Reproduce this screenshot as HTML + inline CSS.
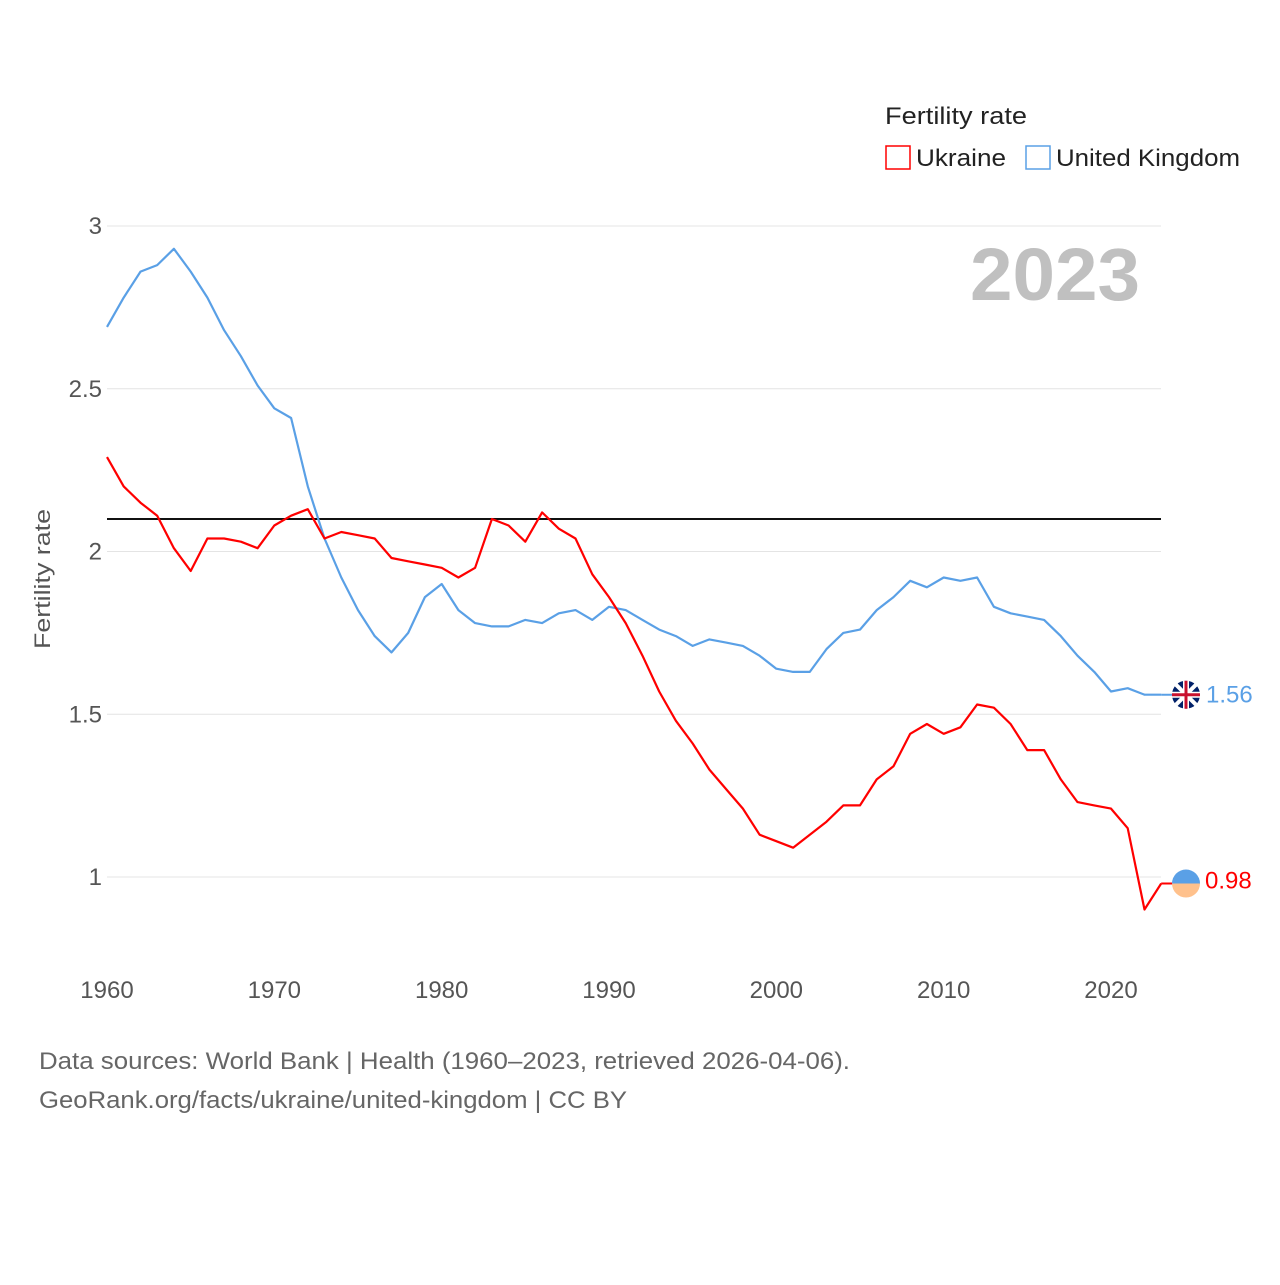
<!DOCTYPE html>
<html><head><meta charset="utf-8">
<style>
body{margin:0;background:#fff;width:1280px;height:1280px;overflow:hidden;font-family:"Liberation Sans",sans-serif}
svg text{font-family:"Liberation Sans",sans-serif}
</style></head>
<body>
<svg id="chart" width="1280" height="1280" xmlns="http://www.w3.org/2000/svg">
<g id="grid"></g>
<g id="yticks"></g>
<g id="xticks"></g>
<text x="1140" y="300" text-anchor="end" font-size="74" font-weight="bold" fill="#c0c0c0" textLength="170" lengthAdjust="spacingAndGlyphs">2023</text>
<text transform="translate(50,579) rotate(-90)" text-anchor="middle" font-size="22" fill="#555" textLength="140" lengthAdjust="spacingAndGlyphs">Fertility rate</text>
<g id="series"></g>
<g>
<text x="885" y="124" font-size="24" fill="#222" textLength="142" lengthAdjust="spacingAndGlyphs">Fertility rate</text>
<rect x="886" y="146" width="24" height="23" fill="none" stroke="#f00" stroke-width="1.5"/>
<text x="916" y="166" font-size="24" fill="#222" textLength="90" lengthAdjust="spacingAndGlyphs">Ukraine</text>
<rect x="1026" y="146" width="24" height="23" fill="none" stroke="#5aa0e6" stroke-width="1.5"/>
<text x="1056" y="166" font-size="24" fill="#222" textLength="184" lengthAdjust="spacingAndGlyphs">United Kingdom</text>
</g>
<text x="39" y="1069" font-size="24" fill="#666" textLength="811" lengthAdjust="spacingAndGlyphs">Data sources: World Bank | Health (1960–2023, retrieved 2026-04-06).</text>
<text x="39" y="1108" font-size="24" fill="#666" textLength="588" lengthAdjust="spacingAndGlyphs">GeoRank.org/facts/ukraine/united-kingdom | CC BY</text>
</svg>
<script>
const years=[];for(let y=1960;y<=2023;y++)years.push(y);
const ukValues=[2.69,2.78,2.86,2.88,2.93,2.86,2.78,2.68,2.60,2.51,2.44,2.41,2.20,2.04,1.92,1.82,1.74,1.69,1.75,1.86,1.90,1.82,1.78,1.77,1.77,1.79,1.78,1.81,1.82,1.79,1.83,1.82,1.79,1.76,1.74,1.71,1.73,1.72,1.71,1.68,1.64,1.63,1.63,1.70,1.75,1.76,1.82,1.86,1.91,1.89,1.92,1.91,1.92,1.83,1.81,1.80,1.79,1.74,1.68,1.63,1.57,1.58,1.56,1.56];
const uaValues=[2.29,2.20,2.15,2.11,2.01,1.94,2.04,2.04,2.03,2.01,2.08,2.11,2.13,2.04,2.06,2.05,2.04,1.98,1.97,1.96,1.95,1.92,1.95,2.10,2.08,2.03,2.12,2.07,2.04,1.93,1.86,1.78,1.68,1.57,1.48,1.41,1.33,1.27,1.21,1.13,1.11,1.09,1.13,1.17,1.22,1.22,1.30,1.34,1.44,1.47,1.44,1.46,1.53,1.52,1.47,1.39,1.39,1.30,1.23,1.22,1.21,1.15,0.90,0.98];
const yTicks=[1,1.5,2,2.5,3];
const xTicks=[1960,1970,1980,1990,2000,2010,2020];
const refValue=2.1;
const NS="http://www.w3.org/2000/svg";
const xs=y=>107+(y-1960)*(1111-107)/60;
const ys=v=>877-(v-1)*325.5;
function mk(tag,attrs,parent){const e=document.createElementNS(NS,tag);for(const k in attrs)e.setAttribute(k,attrs[k]);parent.appendChild(e);return e;}
const grid=document.getElementById('grid'),yt=document.getElementById('yticks'),xt=document.getElementById('xticks'),ser=document.getElementById('series');
yTicks.forEach(v=>{
 const l=mk('line',{x1:107,x2:1161,y1:ys(v),y2:ys(v),stroke:'#e4e4e4','stroke-width':1},grid);
 
 
 const t=mk('text',{x:102,y:ys(v)+8,'text-anchor':'end','font-size':24,fill:'#555'},yt);
 t.textContent=String(v);
 
 
});
xTicks.forEach(y=>{
 const t=mk('text',{x:xs(y),y:998,'text-anchor':'middle','font-size':24,fill:'#555'},xt);
 t.textContent=String(y);
 
 
});
const ref=mk('line',{x1:107,x2:1161,y1:ys(refValue),y2:ys(refValue),stroke:'#111','stroke-width':2},ser);


function line(vals,color,name){
 const d=vals.map((v,i)=>(i?'L':'M')+xs(years[i]).toFixed(1)+','+ys(v).toFixed(1)).join('');
 const p=mk('path',{d:d,fill:'none',stroke:color,'stroke-width':2.2,'stroke-linejoin':'round'},ser);
 
 
}
line(ukValues,'#5aa0e6','uk-line');
line(uaValues,'#f00','ukraine-line');
const n=years.length-1;
const ukY=ys(ukValues[n]),uaY=ys(uaValues[n]);
mk('line',{x1:xs(years[n]),x2:1186,y1:ukY,y2:ukY,stroke:'#5aa0e6','stroke-width':2},ser);
mk('line',{x1:xs(years[n]),x2:1186,y1:uaY,y2:uaY,stroke:'#f00','stroke-width':2},ser);
const ukf=mk('g',{},ser);


mk('circle',{cx:1186,cy:ukY,r:14,fill:'#012169'},ukf);
mk('path',{d:`M1176,${ukY-10}L1196,${ukY+10}M1196,${ukY-10}L1176,${ukY+10}`,stroke:'#fff','stroke-width':4},ukf);
mk('path',{d:`M1172,${ukY}H1200M1186,${ukY-14}V${ukY+14}`,stroke:'#fff','stroke-width':6},ukf);
mk('path',{d:`M1172,${ukY}H1200M1186,${ukY-14}V${ukY+14}`,stroke:'#c8102e','stroke-width':3},ukf);
const uaf=mk('g',{},ser);


mk('path',{d:`M1172,${uaY}A14,14 0 0 1 1200,${uaY}Z`,fill:'#5aa0e6'},uaf);
mk('path',{d:`M1172,${uaY}A14,14 0 0 0 1200,${uaY}Z`,fill:'#ffc18c'},uaf);
const t1=mk('text',{x:1206,y:ukY+8,'font-size':24,fill:'#5aa0e6'},ser);
t1.textContent=ukValues[n].toFixed(2);


const t2=mk('text',{x:1205,y:uaY+5,'font-size':24,fill:'#f00'},ser);
t2.textContent=uaValues[n].toFixed(2);


</script>
</body></html>
